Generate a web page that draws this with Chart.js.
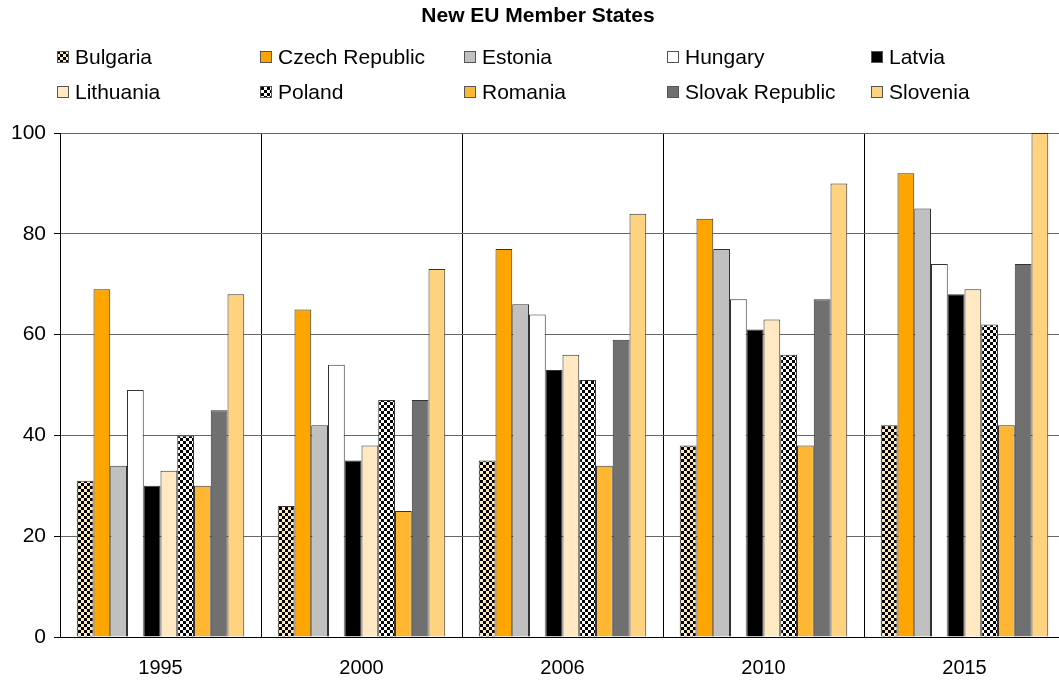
<!DOCTYPE html>
<html>
<head>
<meta charset="utf-8">
<title>New EU Member States</title>
<script src="https://cdn.jsdelivr.net/npm/chart.js@4.4.0/dist/chart.umd.min.js"></script>
<style>
  html, body { margin: 0; padding: 0; background: #fff; overflow: hidden; }
  #wrap { position: relative; width: 1076px; height: 684px; }
</style>
</head>
<body>
<div id="wrap"><canvas id="chart"></canvas></div>
<script>
// ================= Data =================
const years = ['1995', '2000', '2006', '2010', '2015'];
const countries = ['Bulgaria', 'Czech Republic', 'Estonia', 'Hungary', 'Latvia',
                   'Lithuania', 'Poland', 'Romania', 'Slovak Republic', 'Slovenia'];

const bulgaria  = [31, 26, 35, 38, 42];
const czech     = [69, 65, 77, 83, 92];
const estonia   = [34, 42, 66, 77, 85];
const hungary   = [49, 54, 64, 67, 74];
const latvia    = [30, 35, 53, 61, 68];
const lithuania = [33, 38, 56, 63, 69];
const poland    = [40, 47, 51, 56, 62];
const romania   = [30, 25, 34, 38, 42];
const slovak    = [45, 47, 59, 67, 74];
const slovenia  = [68, 73, 84, 90, 100];

const yTicks = [0, 20, 40, 60, 80, 100];

// ================= Patterns =================
function checker(a, b) {
  const c = document.createElement('canvas');
  c.width = 6; c.height = 6;
  const g = c.getContext('2d');
  g.fillStyle = a; g.fillRect(0, 0, 6, 6);
  g.fillStyle = b; g.fillRect(0, 0, 3, 3); g.fillRect(3, 3, 3, 3);
  return g.createPattern(c, 'repeat');
}

const fills = [
  checker('#FFE9B8', '#000000'),
  '#FFA500',
  '#C0C0C0',
  '#FFFFFF',
  '#000000',
  '#FFE8C2',
  checker('#FFFFFF', '#000000'),
  '#FFB733',
  '#707070',
  '#FFD280'
];
const series = [bulgaria, czech, estonia, hungary, latvia, lithuania, poland, romania, slovak, slovenia];

const FONT = '"Liberation Sans", Arial, sans-serif';

// ================= Title + legend plugin =================
const legendCols = [57, 260, 464, 667, 871];
const legendRows = [57, 92];

const headerPlugin = {
  id: 'header',
  afterDraw(chart) {
    const ctx = chart.ctx;
    ctx.save();
    ctx.fillStyle = '#000';
    ctx.font = 'bold 21px ' + FONT;
    ctx.textAlign = 'center';
    ctx.textBaseline = 'middle';
    ctx.fillText('New EU Member States', 538, 16);

    ctx.font = '21px ' + FONT;
    ctx.textAlign = 'left';
    chart.data.datasets.forEach((ds, i) => {
      const x = legendCols[i % 5];
      const y = legendRows[Math.floor(i / 5)];
      ctx.fillStyle = ds.backgroundColor;
      ctx.fillRect(x, y - 6, 12, 12);
      ctx.strokeStyle = '#555';
      ctx.lineWidth = 1;
      ctx.strokeRect(x + 0.5, y - 5.5, 11, 11);
      ctx.fillStyle = '#000';
      ctx.fillText(ds.label, x + 18, y + 1);
    });
    ctx.restore();
  }
};

// ================= Chart =================
const ctx = document.getElementById('chart').getContext('2d');
new Chart(ctx, {
  type: 'bar',
  data: {
    labels: years,
    datasets: countries.map((name, i) => ({
      label: name,
      data: series[i],
      backgroundColor: fills[i],
      borderColor: '#333333',
      borderWidth: 1,
      barPercentage: 1.0,
      categoryPercentage: 10 / 12
    }))
  },
  options: {
    responsive: true,
    maintainAspectRatio: false,
    animation: false,
    layout: { padding: { top: 133, right: 11, left: 0, bottom: 0 } },
    plugins: {
      legend: { display: false },
      title: { display: false },
      tooltip: { enabled: false }
    },
    scales: {
      x: {
        grid: { color: '#000', drawTicks: false, offset: true },
        border: { color: '#000', width: 1 },
        ticks: { color: '#000', font: { family: FONT, size: 20 }, padding: 19 },
        afterFit(s) { s.height = 47; }
      },
      y: {
        min: 0, max: 100,
        afterBuildTicks(s) { s.ticks = yTicks.map(v => ({ value: v })); },
        grid: { color: '#666', tickLength: 6, tickColor: '#000' },
        border: { color: '#000', width: 1 },
        ticks: { color: '#000', font: { family: FONT, size: 21 }, padding: 8 },
        afterFit(s) { s.width = 60; }
      }
    }
  },
  plugins: [headerPlugin]
});
</script>
</body>
</html>
